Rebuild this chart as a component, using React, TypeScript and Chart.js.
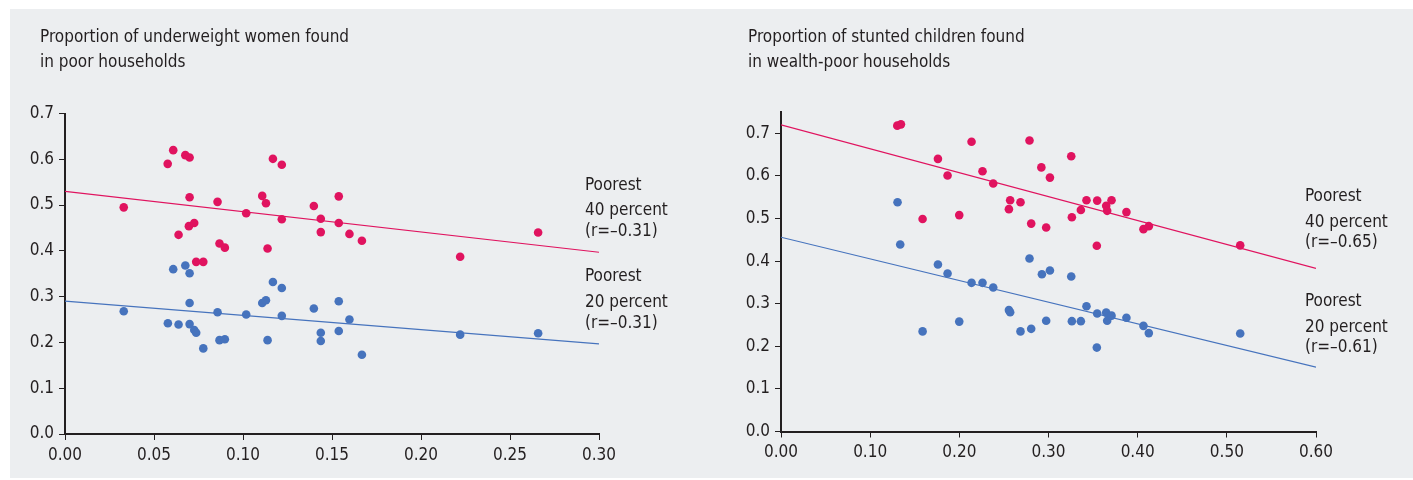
import React, { useEffect, useRef } from "react";
import { Chart, registerables } from "chart.js";

Chart.register(...registerables);

const FONT = "'DejaVu Sans Condensed', 'Liberation Sans Narrow', sans-serif";
const INK = "#231f20";
const RED = "#e0135f";
const BLUE = "#4673bd";
const PANEL_BG = "#eceef0";
const TEXT_SIZE = 17;
const TICK_SIZE = 17;

// ---------- Left chart: underweight women ----------
const womenTitle = ["Proportion of underweight women found", "in poor households"];
const womenXTicks = [0, 0.05, 0.1, 0.15, 0.2, 0.25, 0.3];
const womenYTicks = [0, 0.1, 0.2, 0.3, 0.4, 0.5, 0.6, 0.7];

const women40X = [0.033, 0.0577, 0.0608, 0.0676, 0.070, 0.070, 0.0638, 0.0696, 0.0726, 0.0737, 0.0777, 0.0857, 0.0868, 0.0898, 0.1018, 0.1108, 0.1129, 0.1138, 0.1168, 0.1218, 0.1218, 0.1398, 0.1437, 0.1437, 0.1538, 0.1538, 0.1598, 0.1668, 0.222, 0.2658];
const women40Y = [0.495, 0.590, 0.620, 0.609, 0.604, 0.517, 0.435, 0.454, 0.461, 0.376, 0.376, 0.507, 0.416, 0.407, 0.482, 0.520, 0.504, 0.405, 0.601, 0.588, 0.469, 0.498, 0.470, 0.441, 0.519, 0.461, 0.437, 0.422, 0.387, 0.440];
const women20X = [0.033, 0.0608, 0.0676, 0.070, 0.070, 0.0578, 0.0638, 0.070, 0.0726, 0.0737, 0.0777, 0.0857, 0.0868, 0.0898, 0.1018, 0.1108, 0.1129, 0.1138, 0.1168, 0.1218, 0.1218, 0.1398, 0.1437, 0.1437, 0.1538, 0.1538, 0.1598, 0.1668, 0.222, 0.2658];
const women20Y = [0.268, 0.360, 0.368, 0.351, 0.286, 0.242, 0.239, 0.240, 0.227, 0.221, 0.187, 0.266, 0.205, 0.207, 0.261, 0.286, 0.292, 0.205, 0.332, 0.319, 0.258, 0.274, 0.221, 0.203, 0.290, 0.225, 0.250, 0.173, 0.217, 0.220];
const women40FitX = [0, 0.3];
const women40FitY = [0.53, 0.397];
const women20FitX = [0, 0.3];
const women20FitY = [0.29, 0.197];
const women40Label = ["Poorest", "40 percent", "(r=\u20130.31)"];
const women20Label = ["Poorest", "20 percent", "(r=\u20130.31)"];

// ---------- Right chart: stunted children ----------
const childTitle = ["Proportion of stunted children found", "in wealth-poor households"];
const childXTicks = [0, 0.1, 0.2, 0.3, 0.4, 0.5, 0.6];
const childYTicks = [0, 0.1, 0.2, 0.3, 0.4, 0.5, 0.6, 0.7];

const child40X = [0.1304, 0.1345, 0.176, 0.1868, 0.1588, 0.1999, 0.2137, 0.226, 0.238, 0.257, 0.2556, 0.2686, 0.2787, 0.2806, 0.292, 0.3255, 0.3016, 0.2974, 0.3262, 0.3363, 0.3426, 0.3546, 0.3542, 0.3647, 0.3658, 0.3707, 0.3874, 0.4065, 0.4125, 0.515];
const child40Y = [0.718, 0.721, 0.640, 0.601, 0.499, 0.508, 0.680, 0.611, 0.582, 0.543, 0.522, 0.538, 0.683, 0.488, 0.620, 0.646, 0.596, 0.479, 0.503, 0.520, 0.543, 0.542, 0.436, 0.530, 0.518, 0.543, 0.515, 0.475, 0.482, 0.437];
const child20X = [0.1307, 0.1337, 0.1588, 0.176, 0.1868, 0.1999, 0.2137, 0.226, 0.238, 0.2556, 0.257, 0.2686, 0.2787, 0.2806, 0.2926, 0.3016, 0.3255, 0.2974, 0.3262, 0.3363, 0.3426, 0.3546, 0.3542, 0.3647, 0.3658, 0.3707, 0.3874, 0.4065, 0.4125, 0.515];
const child20Y = [0.538, 0.439, 0.235, 0.392, 0.371, 0.258, 0.349, 0.349, 0.338, 0.285, 0.280, 0.235, 0.406, 0.241, 0.369, 0.378, 0.364, 0.260, 0.259, 0.259, 0.294, 0.277, 0.197, 0.279, 0.260, 0.272, 0.267, 0.248, 0.231, 0.230];
const child40FitX = [0, 0.6];
const child40FitY = [0.72, 0.383];
const child20FitX = [0, 0.6];
const child20FitY = [0.456, 0.151];
const child40Label = ["Poorest", "40 percent", "(r=\u20130.65)"];
const child20Label = ["Poorest", "20 percent", "(r=\u20130.61)"];

const pts = (xs: number[], ys: number[]) => xs.map((x, i) => ({ x, y: ys[i] }));

const textPlugin = {
  id: "panelText",
  afterDraw(chart: any, _args: any, opts: any) {
    const ctx = chart.ctx;
    ctx.save();
    ctx.fillStyle = INK;
    ctx.textBaseline = "middle";
    ctx.textAlign = "left";
    for (const t of opts.items || []) {
      ctx.font = `${t.size}px ${FONT}`;
      ctx.fillText(t.text, t.x, t.y);
    }
    ctx.restore();
  },
};

type Spec = {
  left: number;
  width: number;
  pad: { left: number; right: number; top: number; bottom: number };
  xMax: number;
  yMax: number;
  xTicks: number[];
  yTicks: number[];
  xDigits: number;
  red: { x: number; y: number }[];
  blue: { x: number; y: number }[];
  redFit: { x: number; y: number }[];
  blueFit: { x: number; y: number }[];
  texts: { text: string; x: number; y: number; size: number }[];
};

function ScatterPanel({ spec }: { spec: Spec }) {
  const ref = useRef<HTMLCanvasElement | null>(null);
  useEffect(() => {
    if (!ref.current) return;
    const tickFont = { family: FONT, size: TICK_SIZE };
    const chart = new Chart(ref.current, {
      type: "scatter",
      data: {
        datasets: [
          { data: spec.red, backgroundColor: RED, borderWidth: 0, pointRadius: 4.3, order: 1 },
          { data: spec.blue, backgroundColor: BLUE, borderWidth: 0, pointRadius: 4.3, order: 2 },
          { data: spec.redFit, showLine: true, borderColor: RED, borderWidth: 1.2, pointRadius: 0, fill: false, order: 3 },
          { data: spec.blueFit, showLine: true, borderColor: BLUE, borderWidth: 1.2, pointRadius: 0, fill: false, order: 4 },
        ],
      },
      options: {
        responsive: false,
        animation: false,
        layout: { padding: spec.pad },
        plugins: {
          legend: { display: false },
          tooltip: { enabled: false },
          panelText: { items: spec.texts },
        } as any,
        scales: {
          x: {
            type: "linear",
            min: 0,
            max: spec.xMax,
            afterBuildTicks: (s: any) => {
              s.ticks = spec.xTicks.map((v) => ({ value: v }));
            },
            afterFit: (s: any) => {
              s.height = 40;
            },
            ticks: {
              callback: (v: any) => Number(v).toFixed(spec.xDigits),
              font: tickFont,
              color: INK,
              padding: 5,
              maxRotation: 0,
              autoSkip: false,
            },
            grid: { display: true, drawOnChartArea: false, drawTicks: true, tickLength: 6, color: INK, lineWidth: 1 },
            border: { display: true, color: INK, width: 2 },
          },
          y: {
            type: "linear",
            min: 0,
            max: spec.yMax,
            afterBuildTicks: (s: any) => {
              s.ticks = spec.yTicks.map((v) => ({ value: v }));
            },
            afterFit: (s: any) => {
              s.width = 45;
            },
            ticks: {
              callback: (v: any) => Number(v).toFixed(1),
              font: tickFont,
              color: INK,
              padding: 5,
              autoSkip: false,
            },
            grid: { display: true, drawOnChartArea: false, drawTicks: true, tickLength: 6, color: INK, lineWidth: 1 },
            border: { display: true, color: INK, width: 2 },
          },
        },
      } as any,
      plugins: [textPlugin as any],
    });
    return () => chart.destroy();
  }, [spec]);
  return (
    <canvas
      ref={ref}
      width={spec.width}
      height={480}
      style={{ position: "absolute", left: spec.left, top: 0, width: spec.width, height: 480 }}
    />
  );
}

const leftSpec: Spec = {
  left: 0,
  width: 707,
  pad: { left: 20, right: 108, top: 113.5, bottom: 6 },
  xMax: 0.3,
  yMax: 0.7,
  xTicks: womenXTicks,
  yTicks: womenYTicks,
  xDigits: 2,
  red: pts(women40X, women40Y),
  blue: pts(women20X, women20Y),
  redFit: pts(women40FitX, women40FitY),
  blueFit: pts(women20FitX, women20FitY),
  texts: [
    { text: womenTitle[0], x: 40, y: 38, size: TEXT_SIZE },
    { text: womenTitle[1], x: 40, y: 63, size: TEXT_SIZE },
    { text: women40Label[0], x: 585, y: 186, size: TEXT_SIZE },
    { text: women40Label[1], x: 585, y: 211, size: TEXT_SIZE },
    { text: women40Label[2], x: 585, y: 232, size: TEXT_SIZE },
    { text: women20Label[0], x: 585, y: 277, size: TEXT_SIZE },
    { text: women20Label[1], x: 585, y: 303, size: TEXT_SIZE },
    { text: women20Label[2], x: 585, y: 324, size: TEXT_SIZE },
  ],
};

const rightSpec: Spec = {
  left: 707,
  width: 706,
  pad: { left: 29, right: 97, top: 112, bottom: 8.5 },
  xMax: 0.6,
  yMax: 0.75,
  xTicks: childXTicks,
  yTicks: childYTicks,
  xDigits: 2,
  red: pts(child40X, child40Y),
  blue: pts(child20X, child20Y),
  redFit: pts(child40FitX, child40FitY),
  blueFit: pts(child20FitX, child20FitY),
  texts: [
    { text: childTitle[0], x: 41, y: 38, size: TEXT_SIZE },
    { text: childTitle[1], x: 41, y: 63, size: TEXT_SIZE },
    { text: child40Label[0], x: 598, y: 197, size: TEXT_SIZE },
    { text: child40Label[1], x: 598, y: 223, size: TEXT_SIZE },
    { text: child40Label[2], x: 598, y: 243, size: TEXT_SIZE },
    { text: child20Label[0], x: 598, y: 302, size: TEXT_SIZE },
    { text: child20Label[1], x: 598, y: 328, size: TEXT_SIZE },
    { text: child20Label[2], x: 598, y: 348, size: TEXT_SIZE },
  ],
};

export default function App() {
  return (
    <div style={{ position: "fixed", left: 0, top: 0, width: 1413, height: 480, background: "#ffffff", overflow: "hidden" }}>
      <div style={{ position: "absolute", left: 10, top: 9, right: 0, bottom: 2, background: PANEL_BG }} />
      <ScatterPanel spec={leftSpec} />
      <ScatterPanel spec={rightSpec} />
    </div>
  );
}
